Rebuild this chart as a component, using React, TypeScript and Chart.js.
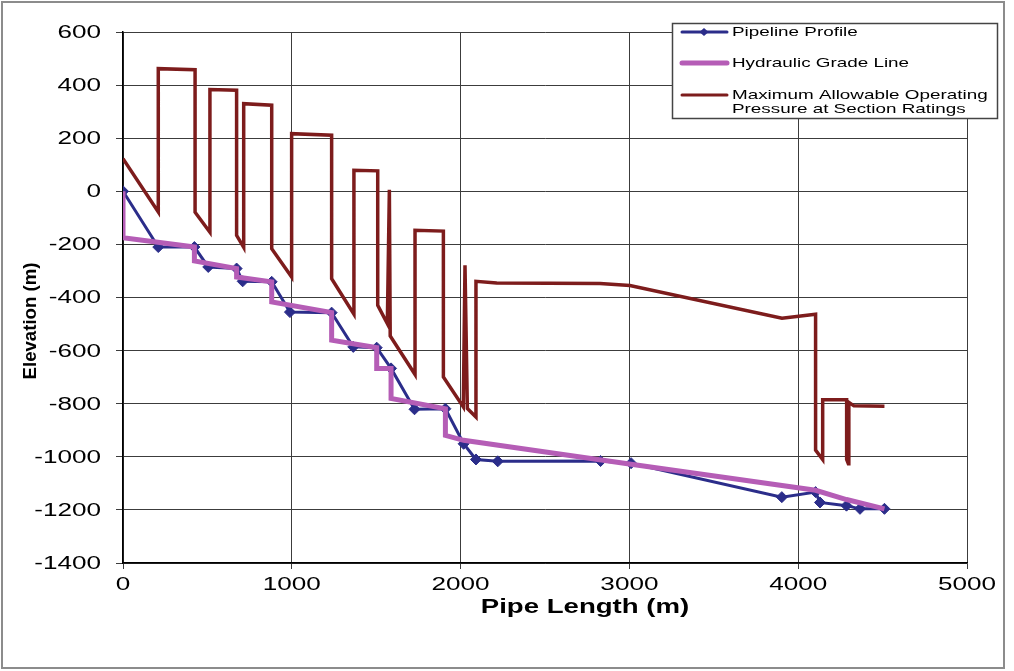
import React, { useEffect, useRef } from 'react';
import { Chart, registerables } from 'chart.js';

Chart.register(...registerables);

// ---- Data ----
const PROFILE_X = [0, 209, 423, 505, 673, 709, 881, 989, 1236, 1364, 1503, 1588, 1727, 1910, 2018, 2091, 2220, 2829, 3010, 3903, 4103, 4129, 4286, 4366, 4511];
const PROFILE_Y = [0, -210, -210, -285, -291, -339, -341, -455, -457, -586, -589, -667, -821, -819, -951, -1010, -1017, -1016, -1024, -1152, -1133, -1172, -1184, -1196, -1196];

const HGL_X = [0, 0, 423, 423, 673, 673, 881, 881, 1236, 1236, 1503, 1503, 1588, 1588, 1910, 1910, 2018, 3010, 4103, 4286, 4511];
const HGL_Y = [0, -175, -210, -262, -291, -323, -341, -417, -457, -561, -589, -667, -667, -780, -819, -919, -938, -1028, -1126, -1161, -1196];

const MAOP_X = [0, 209, 209, 427, 427, 515, 515, 673, 673, 715, 715, 881, 881, 999, 999, 1236, 1236, 1368, 1368, 1509, 1509, 1566, 1578, 1583, 1730, 1730, 1898, 1898, 2016, 2026, 2040, 2091, 2091, 2214, 2826, 3003, 3904, 4103, 4103, 4145, 4145, 4287, 4287, 4297, 4300, 4330, 4511];
const MAOP_Y = [123, -78, 462, 458, -79, -154, 383, 381, -166, -211, 330, 324, -216, -323, 217, 211, -329, -463, 79, 77, -429, -498, 6, -545, -690, -147, -150, -699, -812, -279, -818, -850, -339, -345, -347, -355, -478, -463, -975, -1010, -785, -785, -1010, -1026, -795, -808, -810];

const X_TICKS = [0, 1000, 2000, 3000, 4000, 5000];
const Y_TICKS = [600, 400, 200, 0, -200, -400, -600, -800, -1000, -1200, -1400];

const SERIES_NAMES = ['Pipeline Profile', 'Hydraulic Grade Line', 'Maximum Allowable Operating', 'Pressure at Section Ratings'];
const X_TITLE = 'Pipe Length (m)';
const Y_TITLE = 'Elevation (m)';

const NAVY = '#2b2d8a';
const MAGENTA = '#b55db6';
const DARKRED = '#7d1c1c';
const FONT = '"Liberation Sans", Arial, sans-serif';

const toPts = (xs: number[], ys: number[]) => xs.map((x, i) => ({ x, y: ys[i] }));

function drawStretched(
  ctx: CanvasRenderingContext2D,
  text: string,
  x: number,
  y: number,
  sx: number,
  align: CanvasTextAlign,
  font: string,
  rot = 0,
  color = '#000'
) {
  ctx.save();
  ctx.translate(x, y);
  if (rot) ctx.rotate(rot);
  ctx.scale(sx, 1);
  ctx.font = font;
  ctx.fillStyle = color;
  ctx.textAlign = align;
  ctx.textBaseline = 'middle';
  ctx.fillText(text, 0, 0);
  ctx.restore();
}

const decorPlugin = {
  id: 'decor',
  beforeDraw(chart: any) {
    const ctx = chart.ctx as CanvasRenderingContext2D;
    ctx.save();
    ctx.fillStyle = '#ffffff';
    ctx.fillRect(0, 0, chart.width, chart.height);
    ctx.strokeStyle = '#8c8c8c';
    ctx.lineWidth = 2;
    ctx.strokeRect(2, 2, 1002, 666);
    ctx.restore();
  },
  afterDraw(chart: any) {
    const ctx = chart.ctx as CanvasRenderingContext2D;
    const xs = chart.scales.x;
    const ys = chart.scales.y;
    const tickFont = `18px ${FONT}`;
    Y_TICKS.forEach((v) => {
      drawStretched(ctx, String(v), 101, ys.getPixelForValue(v) + 1, 1.45, 'right', tickFont);
    });
    X_TICKS.forEach((v) => {
      drawStretched(ctx, String(v), xs.getPixelForValue(v), 585, 1.45, 'center', tickFont);
    });
    drawStretched(ctx, X_TITLE, 585, 607, 1.38, 'center', `bold 20px ${FONT}`);
    drawStretched(ctx, Y_TITLE, 31, 321, 0.98, 'center', `bold 19px ${FONT}`, -Math.PI / 2);

    // Legend
    ctx.save();
    ctx.fillStyle = '#ffffff';
    ctx.fillRect(672, 23, 325, 95);
    ctx.strokeStyle = '#444444';
    ctx.lineWidth = 1.5;
    ctx.strokeRect(672.5, 23.5, 325, 95);
    ctx.lineCap = 'round';
    ctx.strokeStyle = NAVY;
    ctx.lineWidth = 3;
    ctx.beginPath();
    ctx.moveTo(682, 32);
    ctx.lineTo(727, 32);
    ctx.stroke();
    ctx.fillStyle = NAVY;
    ctx.beginPath();
    ctx.moveTo(704, 28);
    ctx.lineTo(708.5, 32);
    ctx.lineTo(704, 36);
    ctx.lineTo(699.5, 32);
    ctx.closePath();
    ctx.fill();
    ctx.strokeStyle = MAGENTA;
    ctx.lineWidth = 5;
    ctx.beginPath();
    ctx.moveTo(682, 63);
    ctx.lineTo(727, 63);
    ctx.stroke();
    ctx.strokeStyle = DARKRED;
    ctx.lineWidth = 3;
    ctx.beginPath();
    ctx.moveTo(682, 95);
    ctx.lineTo(727, 95);
    ctx.stroke();
    ctx.restore();
    const legFont = `13px ${FONT}`;
    drawStretched(ctx, SERIES_NAMES[0], 732, 32, 1.45, 'left', legFont);
    drawStretched(ctx, SERIES_NAMES[1], 732, 63, 1.45, 'left', legFont);
    drawStretched(ctx, SERIES_NAMES[2], 732, 95, 1.45, 'left', legFont);
    drawStretched(ctx, SERIES_NAMES[3], 732, 109, 1.45, 'left', legFont);
  },
};

export default function App() {
  const ref = useRef<HTMLCanvasElement | null>(null);

  useEffect(() => {
    if (!ref.current) return;
    const chart = new Chart(ref.current, {
      type: 'scatter',
      data: {
        datasets: [
          {
            label: SERIES_NAMES[0],
            data: toPts(PROFILE_X, PROFILE_Y),
            showLine: true,
            borderColor: NAVY,
            backgroundColor: NAVY,
            borderWidth: 3,
            pointStyle: 'rectRot',
            pointRadius: 5.5,
            pointBorderWidth: 1,
            tension: 0,
            order: 2,
          },
          {
            label: SERIES_NAMES[1],
            data: toPts(HGL_X, HGL_Y),
            showLine: true,
            borderColor: MAGENTA,
            backgroundColor: MAGENTA,
            borderWidth: 5,
            pointRadius: 0,
            tension: 0,
            order: 1,
          },
          {
            label: SERIES_NAMES[2] + ' ' + SERIES_NAMES[3],
            data: toPts(MAOP_X, MAOP_Y),
            showLine: true,
            borderColor: DARKRED,
            backgroundColor: DARKRED,
            borderWidth: 3.5,
            pointRadius: 0,
            tension: 0,
            order: 3,
          },
        ],
      },
      options: {
        responsive: false,
        animation: false,
        devicePixelRatio: 1,
        layout: { padding: { top: 32, right: 47, left: 0, bottom: 0 } },
        plugins: {
          legend: { display: false },
          tooltip: { enabled: false },
          title: { display: false },
        },
        scales: {
          x: {
            type: 'linear',
            min: 0,
            max: 5000,
            ticks: { stepSize: 1000, display: false },
            grid: { color: '#3c3c3c', lineWidth: 1, tickLength: 6, drawTicks: true },
            border: { display: true, color: '#000', width: 1.5 },
            afterFit: (s: any) => {
              s.height = 108;
            },
          },
          y: {
            type: 'linear',
            min: -1400,
            max: 600,
            ticks: { stepSize: 200, display: false },
            grid: { color: '#3c3c3c', lineWidth: 1, tickLength: 7, drawTicks: true },
            border: { display: true, color: '#000', width: 1.5 },
            afterFit: (s: any) => {
              s.width = 123;
            },
          },
        },
      },
      plugins: [decorPlugin],
    } as any);
    return () => chart.destroy();
  }, []);

  return (
    <div style={{ position: 'absolute', left: 0, top: 0, width: 1014, height: 671 }}>
      <canvas ref={ref} width={1014} height={671} style={{ display: 'block' }} />
    </div>
  );
}
